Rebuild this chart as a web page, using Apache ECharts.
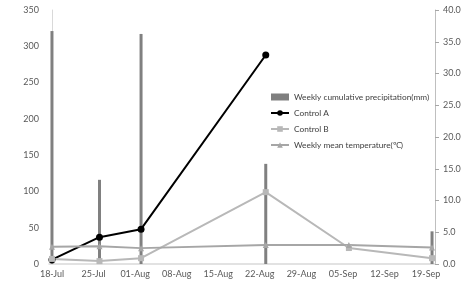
<!DOCTYPE html>
<html>
<head>
<meta charset="utf-8">
<script src="https://cdn.jsdelivr.net/npm/echarts@6/dist/echarts.min.js"></script>
<style>
  html, body { margin: 0; padding: 0; background: #fff; }
  #chart { width: 464px; height: 286px; }
</style>
</head>
<body>
<div id="chart"></div>
<script>
// week tick labels on the x axis (every 7 days from 18-Jul)
const tickLabels = ['18-Jul', '25-Jul', '01-Aug', '08-Aug', '15-Aug', '22-Aug', '29-Aug', '05-Sep', '12-Sep', '19-Sep']

// sampling dates
const precipDates = ['07-18', '07-26', '08-02', '08-23', '09-20']
const precipValues = [321, 116, 317, 138, 45]

const controlADates = ['07-18', '07-26', '08-02', '08-23']
const controlAValues = [6, 37, 48, 288]

const controlBDates = ['07-18', '07-26', '08-02', '08-23', '09-06', '09-20']
const controlBValues = [7, 4, 8, 99, 22, 8]

const tempDates = ['07-18', '07-26', '08-02', '08-23', '09-06', '09-20']
const tempValues = [2.7, 2.8, 2.5, 3.0, 3.0, 2.6]

const DAY = 86400000
const start = Date.UTC(2012, 6, 18)
// days since 18-Jul
function dayOf(md) {
  const [m, d] = md.split('-').map(Number)
  return Math.round((Date.UTC(2012, m - 1, d) - start) / DAY)
}
function pairs(dates, values) {
  return dates.map((d, i) => [dayOf(d), values[i]])
}

const FONT = 'Lato'
const labelColor = '#595959'

const chart = echarts.init(document.getElementById('chart'))
chart.setOption({
  animation: false,
  textStyle: { fontFamily: FONT },
  grid: { left: 49, right: 29, top: 10, bottom: 22 },
  legend: {
    orient: 'vertical',
    left: 265,
    top: 88,
    itemGap: 8,
    itemWidth: 18,
    itemHeight: 7,
    textStyle: { fontFamily: FONT, fontSize: 8.3, color: '#404040' },
    data: [
      { name: 'Weekly cumulative precipitation(mm)', icon: 'rect', itemStyle: { color: '#7f7f7f' } },
      'Control A',
      'Control B',
      'Weekly mean temperature(℃)'
    ]
  },
  xAxis: {
    type: 'value',
    min: -0.5,
    max: 64.5,
    axisLine: { lineStyle: { color: '#d9d9d9', width: 1.5 } },
    axisTick: { show: false },
    splitLine: { show: false },
    axisLabel: {
      customValues: tickLabels.map((t, i) => i * 7),
      formatter: v => tickLabels[Math.round(v / 7)] || '',
      fontSize: 9,
      color: labelColor,
      margin: 6
    }
  },
  yAxis: [
    {
      type: 'value',
      min: 0,
      max: 350,
      interval: 50,
      axisLine: { show: true, lineStyle: { color: '#d9d9d9' } },
      axisTick: { show: false },
      splitLine: { show: false },
      axisLabel: { fontSize: 9, color: labelColor, margin: 10 }
    },
    {
      type: 'value',
      min: 0,
      max: 40,
      interval: 5,
      position: 'right',
      axisLine: { show: true, lineStyle: { color: '#bfbfbf' } },
      axisTick: { show: true, inside: false, length: 4, lineStyle: { color: '#a6a6a6' } },
      splitLine: { show: false },
      axisLabel: { fontSize: 9, color: labelColor, margin: 8, formatter: v => v.toFixed(1) }
    }
  ],
  series: [
    {
      name: 'Weekly cumulative precipitation(mm)',
      type: 'bar',
      barWidth: 3,
      itemStyle: { color: '#808080' },
      data: pairs(precipDates, precipValues)
    },
    {
      name: 'Control A',
      type: 'line',
      symbol: 'circle',
      symbolSize: 7,
      lineStyle: { color: '#000', width: 2 },
      itemStyle: { color: '#000' },
      data: pairs(controlADates, controlAValues)
    },
    {
      name: 'Control B',
      type: 'line',
      symbol: 'rect',
      symbolSize: 6,
      lineStyle: { color: '#b8b8b8', width: 2 },
      itemStyle: { color: '#b8b8b8' },
      data: pairs(controlBDates, controlBValues)
    },
    {
      name: 'Weekly mean temperature(℃)',
      type: 'line',
      yAxisIndex: 1,
      symbol: 'triangle',
      symbolSize: 6,
      lineStyle: { color: '#a6a6a6', width: 2 },
      itemStyle: { color: '#a6a6a6' },
      data: pairs(tempDates, tempValues)
    }
  ]
})
</script>
</body>
</html>
